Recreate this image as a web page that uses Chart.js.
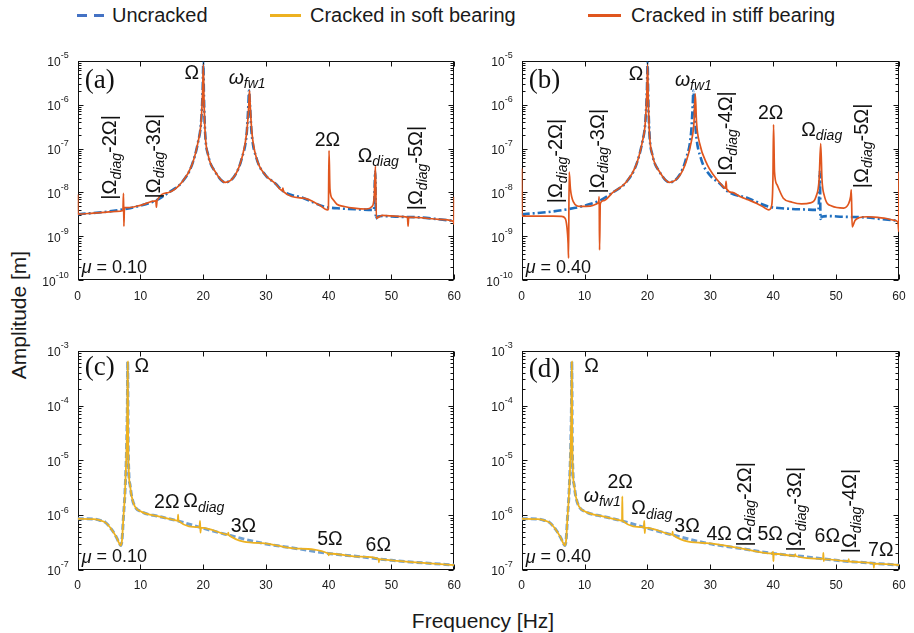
<!DOCTYPE html>
<html>
<head>
<meta charset="utf-8">
<script src="https://cdn.jsdelivr.net/npm/chart.js@4.4.0/dist/chart.umd.min.js"></script>
<style>
body{margin:0;width:914px;height:633px;background:#fff;position:relative;overflow:hidden;font-family:"Liberation Sans",Arial,sans-serif;color:#1a1a1a}
.box{position:absolute}
.t{position:absolute;white-space:nowrap;line-height:1}
.ln{position:absolute;height:3px}
</style>
</head>
<body>
<span class="ln" style="left:77px;top:14px;width:10px;background:#4472c4"></span>
<span class="ln" style="left:94px;top:14px;width:10px;background:#4472c4"></span>
<span class="t" style="left:112px;top:5px;font-size:20px">Uncracked</span>
<span class="ln" style="left:270px;top:14px;width:31px;background:#edb120"></span>
<span class="t" style="left:310px;top:5px;font-size:20px">Cracked in soft bearing</span>
<span class="ln" style="left:588px;top:14px;width:33px;background:#e0561e"></span>
<span class="t" style="left:631px;top:5px;font-size:20px">Cracked in stiff bearing</span>
<span class="t" style="left:18px;top:315px;font-size:21px;transform:translate(-50%,-50%) rotate(-90deg)">Amplitude [m]</span>
<span class="t" style="left:483px;top:620px;font-size:21px;transform:translate(-50%,-50%)">Frequency [Hz]</span>

<div class="box" style="left:0;top:30px;width:462px;height:280px"><canvas id="ca"></canvas></div>
<div class="box" style="left:462px;top:30px;width:452px;height:280px"><canvas id="cb"></canvas></div>
<div class="box" style="left:0;top:320px;width:462px;height:280px"><canvas id="cc"></canvas></div>
<div class="box" style="left:462px;top:320px;width:452px;height:280px"><canvas id="cd"></canvas></div>

<script>
// tick labels
const xTicks = [0, 10, 20, 30, 40, 50, 60];
const yExpTop = [-10, -9, -8, -7, -6, -5];
const yExpBot = [-7, -6, -5, -4, -3];

// uncracked, top row (a, b)
const fUncTop = [0,2.5,5,7.5,10,12.5,14.5,16.6,18.2,19.2,19.66,19.92,20.02,20.12,20.3,20.8,21.9,23.5,25.1,26.15,26.95,27.2,27.3,27.45,27.7,28.5,29.9,31.5,32.8,36,39.2,42,45,47.2,47.42,47.52,47.7,48.7,51,54.6,57,60];
const aUncTop = [3.2e-9,3.4e-9,3.7e-9,4.2e-9,5.0e-9,6.6e-9,1.0e-8,1.7e-8,4.2e-8,1.45e-7,4e-7,2.3e-6,9e-6,1.5e-6,2.4e-7,7e-8,3e-8,1.7e-8,2.5e-8,6e-8,2.4e-7,1e-6,2.1e-6,1e-6,2.4e-7,6e-8,2.5e-8,1.6e-8,1.05e-8,7.4e-9,4.8e-9,4.3e-9,4.1e-9,4.0e-9,3e-8,2.5e-9,2.8e-9,2.9e-9,2.8e-9,2.7e-9,2.5e-9,2.25e-9];

// cracked in stiff bearing, mu = 0.10 (a)
const fStiffA = [0,0.04,2.5,5,6.2,7.2,7.3,7.36,7.45,8,10,12.45,12.55,12.65,14.5,16.6,18.2,19.2,19.66,19.92,20.02,20.12,20.3,20.8,21.9,23.5,25.1,26.15,26.95,27.25,27.38,27.5,27.75,28.5,29.9,31.5,32.6,32.7,32.8,36,38.5,39.8,39.95,40.05,40.2,40.6,41.3,42.5,44,46,46.9,47.25,47.45,47.6,48.5,51,52.55,52.65,52.75,55,57.5,59.9,59.95,60];
const aStiffA = [9e-9,3.2e-9,3.4e-9,3.6e-9,3.7e-9,3.9e-9,9.5e-9,1.7e-9,4.6e-9,4.5e-9,5.1e-9,6.4e-9,4.6e-9,6.6e-9,1.0e-8,1.7e-8,4.2e-8,1.45e-7,4e-7,2.3e-6,8e-6,1.5e-6,2.4e-7,7e-8,3e-8,1.7e-8,2.5e-8,6e-8,2.4e-7,9e-7,2.1e-6,9e-7,2.4e-7,6e-8,2.5e-8,1.6e-8,1.1e-8,1.25e-8,1.05e-8,7.4e-9,5.2e-9,4.0e-9,4.2e-9,9e-8,1.2e-8,7.2e-9,5.4e-9,4.8e-9,4.4e-9,4.2e-9,4.8e-9,8e-9,4e-8,2.6e-9,3e-9,2.85e-9,2.75e-9,1.7e-9,2.75e-9,2.65e-9,2.45e-9,2.2e-9,1.9e-9,8e-9];

// cracked in stiff bearing, mu = 0.40 (b)
const fStiffB = [0,0.05,2.5,5,6.3,6.9,7.2,7.38,7.45,7.55,7.75,8.2,9.3,10.9,11.9,12.25,12.32,12.38,12.5,13,14.5,16.6,18.2,19.2,19.66,19.92,20.02,20.12,20.3,20.8,21.9,23.5,25.1,26.15,27,27.4,27.6,27.8,28.3,29.5,30.5,31.6,32.4,32.5,32.6,33.5,34.8,36,37.4,38.5,39.3,39.75,39.95,40.05,40.2,40.6,41.6,43,44.5,45.9,46.8,47.3,47.55,47.75,48.1,49.3,51.2,52,52.3,52.42,52.55,53,53.6,55,56,58,59.1,59.85,59.95,60];
const aStiffB = [3.5e-8,2.9e-9,2.9e-9,2.9e-9,2.85e-9,2.6e-9,1.6e-9,7e-10,3.2e-10,2.9e-8,1.2e-8,6.2e-9,4.8e-9,4.9e-9,5.5e-9,6.3e-9,8e-9,4.9e-10,5.6e-9,6.5e-9,1.0e-8,1.7e-8,4.2e-8,1.45e-7,4e-7,2.3e-6,8e-6,1.5e-6,2.4e-7,7e-8,3e-8,1.7e-8,2.4e-8,5e-8,1.5e-7,4e-7,1.75e-6,4e-7,1.3e-7,4.3e-8,2.5e-8,1.6e-8,1.25e-8,1.8e-8,1.2e-8,1.0e-8,8e-9,6.8e-9,5.6e-9,4.6e-9,4.0e-9,5e-9,2e-8,3.5e-7,3e-8,1.5e-8,7.4e-9,6e-9,5.5e-9,5.8e-9,8e-9,2e-8,1.3e-7,2e-8,8.7e-9,4.9e-9,4.4e-9,5.6e-9,8e-9,1.15e-8,1.65e-9,2.3e-9,2.65e-9,2.8e-9,2.75e-9,2.55e-9,2.35e-9,2.1e-9,1.3e-9,3e-8];

// uncracked, bottom row (c, d)
const fUncBot = [0,2.5,3.5,4.4,5.4,6.2,6.6,6.85,7.05,7.27,7.54,7.8,7.92,7.97,8.03,8.15,8.35,8.6,9.1,10.2,12.9,15.5,19.5,23.5,29.3,35,40,45,50,55,60];
const aUncBot = [8.6e-7,8.5e-7,8.1e-7,7.4e-7,5.5e-7,3.9e-7,3.1e-7,2.8e-7,3.4e-7,8.5e-7,2.7e-6,1.9e-5,1.2e-4,6.3e-4,3e-5,6e-6,3.5e-6,2.2e-6,1.45e-6,1.15e-6,9.5e-7,8.1e-7,6e-7,4.5e-7,3.1e-7,2.45e-7,2e-7,1.75e-7,1.5e-7,1.35e-7,1.23e-7];

// cracked in soft bearing, mu = 0.10 (c)
const fSoftC = [0,2.5,3.5,4.4,5.4,6.2,6.6,6.85,7.05,7.27,7.54,7.8,7.92,7.97,8.03,8.15,8.35,8.6,9.1,10.2,12.9,15.5,15.95,16,16.05,19.4,19.5,19.56,19.65,23.5,23.95,24,24.05,29.3,35,39.95,40,40.05,45,47.95,48,48.05,50,55,60];
const aSoftC = [8.6e-7,8.5e-7,8.1e-7,7.4e-7,5.5e-7,3.9e-7,3.1e-7,2.8e-7,3.4e-7,8.5e-7,2.7e-6,1.9e-5,1.2e-4,6.3e-4,3e-5,6e-6,3.5e-6,2.2e-6,1.45e-6,1.15e-6,9.5e-7,8.1e-7,7.9e-7,1.02e-6,7.85e-7,6.05e-7,7.9e-7,4.8e-7,5.95e-7,4.5e-7,4.4e-7,4.8e-7,4.35e-7,3.1e-7,2.45e-7,2e-7,1.85e-7,2e-7,1.75e-7,1.6e-7,1.38e-7,1.58e-7,1.5e-7,1.35e-7,1.23e-7];

// cracked in soft bearing, mu = 0.40 (d)
const fSoftD = [0,2.5,3.5,4.4,5.4,6.2,6.6,6.85,7.05,7.27,7.54,7.8,7.92,7.97,8.03,8.15,8.35,8.6,9.1,10.2,12.9,15.5,15.95,16,16.05,19.4,19.5,19.56,19.65,23.5,23.95,24,24.05,29.3,35,39.92,39.97,40.03,40.08,43.45,43.5,43.55,47.92,47.97,48.03,48.08,51.95,52,52.05,55.95,56,56.05,60];
const aSoftD = [8.6e-7,8.5e-7,8.1e-7,7.4e-7,5.5e-7,3.9e-7,3.1e-7,2.8e-7,3.4e-7,8.5e-7,2.7e-6,1.9e-5,1.2e-4,6.3e-4,3e-5,6e-6,3.5e-6,2.2e-6,1.45e-6,1.15e-6,9.5e-7,8.1e-7,7.9e-7,2.2e-6,7.85e-7,6.05e-7,7.9e-7,4.7e-7,5.95e-7,4.5e-7,4.4e-7,5e-7,4.35e-7,3.1e-7,2.45e-7,2e-7,2.15e-7,1.45e-7,1.98e-7,1.82e-7,1.95e-7,1.8e-7,1.6e-7,2.05e-7,1.45e-7,1.58e-7,1.44e-7,1.58e-7,1.43e-7,1.32e-7,1.1e-7,1.31e-7,1.23e-7];

const BLUE = '#1f6fbf', BLUE2 = '#6f9fd2', ORANGE = '#e0561e', YELLOW = '#edb120';
const FAM = '"Liberation Sans", Arial, sans-serif';

// labels on the plots: x in Hz, y in m, r = rotated
const labA = [
  {x:18.2, y:5.2e-6, t:[['Ω','']]},
  {x:27.0, y:4e-6, t:[['ω','i'],['fw1','si']]},
  {x:39.8, y:1.55e-7, t:[['2Ω','']]},
  {x:47.9, y:6.5e-8, t:[['Ω',''],['diag','si']]},
  {x:5.28, y:6.3e-8, r:1, t:[['|Ω',''],['diag','si'],['-2Ω|','']]},
  {x:12.2, y:6.7e-8, r:1, t:[['|Ω',''],['diag','si'],['-3Ω|','']]},
  {x:54.05, y:3.6e-8, r:1, t:[['|Ω',''],['diag','si'],['-5Ω|','']]}
];
const labB = [
  {x:18.2, y:4.7e-6, t:[['Ω','']]},
  {x:27.3, y:3.6e-6, t:[['ω','i'],['fw1','si']]},
  {x:39.6, y:6.3e-7, t:[['2Ω','']]},
  {x:47.7, y:2.6e-7, t:[['Ω',''],['diag','si']]},
  {x:5.57, y:5.2e-8, r:1, t:[['|Ω',''],['diag','si'],['-2Ω|','']]},
  {x:12.2, y:8.7e-8, r:1, t:[['|Ω',''],['diag','si'],['-3Ω|','']]},
  {x:32.6, y:2.2e-7, r:1, t:[['|Ω',''],['diag','si'],['-4Ω|','']]},
  {x:54.2, y:1.15e-7, r:1, t:[['|Ω',''],['diag','si'],['-5Ω|','']]}
];
const labC = [
  {x:10.2, y:5.1e-4, t:[['Ω','']]},
  {x:14.2, y:1.66e-6, t:[['2Ω','']]},
  {x:20.1, y:1.74e-6, t:[['Ω',''],['diag','si']]},
  {x:26.4, y:6.3e-7, t:[['3Ω','']]},
  {x:40.2, y:3.6e-7, t:[['5Ω','']]},
  {x:47.9, y:2.75e-7, t:[['6Ω','']]}
];
const labD = [
  {x:11.1, y:5.1e-4, t:[['Ω','']]},
  {x:15.65, y:3.9e-6, t:[['2Ω','']]},
  {x:12.8, y:2.2e-6, t:[['ω','i'],['fw1','si']]},
  {x:20.7, y:1.3e-6, t:[['Ω',''],['diag','si']]},
  {x:26.3, y:6.2e-7, t:[['3Ω','']]},
  {x:31.4, y:4.5e-7, t:[['4Ω','']]},
  {x:35.55, y:1.58e-6, r:1, t:[['|Ω',''],['diag','si'],['-2Ω|','']]},
  {x:39.5, y:4.4e-7, t:[['5Ω','']]},
  {x:43.6, y:1.29e-6, r:1, t:[['|Ω',''],['diag','si'],['-3Ω|','']]},
  {x:48.6, y:4.1e-7, t:[['6Ω','']]},
  {x:52.35, y:1.19e-6, r:1, t:[['|Ω',''],['diag','si'],['-4Ω|','']]},
  {x:57.1, y:2.24e-7, t:[['7Ω','']]}
];

function rich(ctx, segs, x, y, size, align, rot) {
  const fontOf = st => (st.includes('i') ? 'italic ' : '') + (st.includes('s') ? Math.round(size * 0.7) : size) + 'px ' + FAM;
  let w = 0;
  const ws = segs.map(([t, st]) => { ctx.font = fontOf(st); const m = ctx.measureText(t).width; w += m; return m; });
  ctx.save();
  ctx.translate(x, y);
  if (rot) ctx.rotate(-Math.PI / 2);
  let cx = align === 'left' ? 0 : -w / 2;
  ctx.textBaseline = 'middle';
  ctx.textAlign = 'left';
  segs.forEach(([t, st], i) => {
    ctx.font = fontOf(st);
    ctx.fillText(t, cx, st.includes('s') ? size * 0.3 : 0);
    cx += ws[i];
  });
  ctx.restore();
}

function deco(letter, letterDy, mu, labels, yExp) {
  return {
    id: 'deco',
    beforeDatasetsDraw(chart) {
      const {ctx, chartArea: a, scales: {x, y}} = chart;
      ctx.save();
      ctx.strokeStyle = '#111';
      ctx.lineWidth = 1;
      const L = Math.round(a.left) + 0.5, R = Math.round(a.right) - 0.5;
      const T = Math.round(a.top) + 0.5, B = Math.round(a.bottom) - 0.5;
      ctx.strokeRect(L, T, R - L, B - T);
      ctx.beginPath();
      xTicks.forEach(v => {
        const px = Math.round(x.getPixelForValue(v)) + 0.5;
        ctx.moveTo(px, B); ctx.lineTo(px, B - 5);
        ctx.moveTo(px, T); ctx.lineTo(px, T + 5);
      });
      yExp.forEach((e, i) => {
        const py = Math.round(y.getPixelForValue(Math.pow(10, e))) + 0.5;
        ctx.moveTo(L, py); ctx.lineTo(L + 5, py);
        ctx.moveTo(R, py); ctx.lineTo(R - 5, py);
        if (i < yExp.length - 1) {
          for (let k = 2; k <= 9; k++) {
            const pm = Math.round(y.getPixelForValue(k * Math.pow(10, e))) + 0.5;
            ctx.moveTo(L, pm); ctx.lineTo(L + 3, pm);
            ctx.moveTo(R, pm); ctx.lineTo(R - 3, pm);
          }
        }
      });
      ctx.stroke();
      // tick labels
      ctx.fillStyle = '#1a1a1a';
      ctx.textBaseline = 'middle';
      ctx.textAlign = 'center';
      ctx.font = '12px ' + FAM;
      xTicks.forEach(v => ctx.fillText(String(v), x.getPixelForValue(v), a.bottom + 16));
      yExp.forEach(e => {
        const py = y.getPixelForValue(Math.pow(10, e));
        const sup = String(e);
        ctx.font = '9px ' + FAM;
        const ws = ctx.measureText(sup).width;
        ctx.textAlign = 'left';
        ctx.fillText(sup, a.left - 9 - ws, py - 5);
        ctx.font = '12px ' + FAM;
        ctx.textAlign = 'right';
        ctx.fillText('10', a.left - 9 - ws, py + 2);
      });
      ctx.restore();
    },
    afterDatasetsDraw(chart) {
      const {ctx, chartArea: a, scales: {x, y}} = chart;
      ctx.save();
      ctx.fillStyle = '#111';
      ctx.font = '27px "Liberation Serif", "Times New Roman", serif';
      ctx.textBaseline = 'middle';
      ctx.textAlign = 'left';
      ctx.fillText(letter, a.left + 7, a.top + letterDy);
      rich(ctx, [['μ', 'i'], [' = ' + mu, '']], a.left + 4, a.bottom - 12.5, 18, 'left', false);
      labels.forEach(l => rich(ctx, l.t, x.getPixelForValue(l.x), y.getPixelForValue(l.y), l.r ? 20 : 19.5, 'center', l.r));
      ctx.restore();
    }
  };
}

function pts(f, a) { return f.map((v, i) => ({x: v, y: a[i]})); }

function makeChart(id, datasets, ymin, ymax, pad, plug) {
  return new Chart(document.getElementById(id), {
    type: 'line',
    data: {datasets},
    options: {
      responsive: true,
      maintainAspectRatio: false,
      animation: false,
      layout: {padding: pad},
      plugins: {legend: {display: false}, tooltip: {enabled: false}},
      elements: {point: {radius: 0}, line: {cubicInterpolationMode: 'monotone'}},
      scales: {
        x: {type: 'linear', min: 0, max: 60, display: false},
        y: {type: 'logarithmic', min: ymin, max: ymax, display: false}
      }
    },
    plugins: [plug]
  });
}

const padL = {left: 77.7, right: 7.8, top: 30.7, bottom: 29.7};
const padR = {left: 59.7, right: 15, top: 30.7, bottom: 29.7};
const padL2 = {left: 77.7, right: 7.8, top: 30.7, bottom: 30};
const padR2 = {left: 59.7, right: 15, top: 30.7, bottom: 30};

makeChart('ca', [
  {label: 'Cracked in stiff bearing', data: pts(fStiffA, aStiffA), borderColor: ORANGE, borderWidth: 1.7, order: 0},
  {label: 'Uncracked', data: pts(fUncTop, aUncTop), borderColor: BLUE, borderWidth: 2.6, borderDash: [8, 3, 2, 3], order: 1}
], 1e-10, 1e-5, padL, deco('(a)', 20, '0.10', labA, yExpTop));

makeChart('cb', [
  {label: 'Cracked in stiff bearing', data: pts(fStiffB, aStiffB), borderColor: ORANGE, borderWidth: 1.7, order: 0},
  {label: 'Uncracked', data: pts(fUncTop, aUncTop), borderColor: BLUE, borderWidth: 2.6, borderDash: [8, 3, 2, 3], order: 1}
], 1e-10, 1e-5, padR, deco('(b)', 20, '0.40', labB, yExpTop));

makeChart('cc', [
  {label: 'Cracked in soft bearing', data: pts(fSoftC, aSoftC), borderColor: YELLOW, borderWidth: 1.8, order: 0},
  {label: 'Uncracked', data: pts(fUncBot, aUncBot), borderColor: BLUE2, borderWidth: 3, borderDash: [6, 3], order: 1}
], 1e-7, 1e-3, padL2, deco('(c)', 17, '0.10', labC, yExpBot));

makeChart('cd', [
  {label: 'Cracked in soft bearing', data: pts(fSoftD, aSoftD), borderColor: YELLOW, borderWidth: 1.8, order: 0},
  {label: 'Uncracked', data: pts(fUncBot, aUncBot), borderColor: BLUE2, borderWidth: 3, borderDash: [6, 3], order: 1}
], 1e-7, 1e-3, padR2, deco('(d)', 19, '0.40', labD, yExpBot));
</script>
</body>
</html>
